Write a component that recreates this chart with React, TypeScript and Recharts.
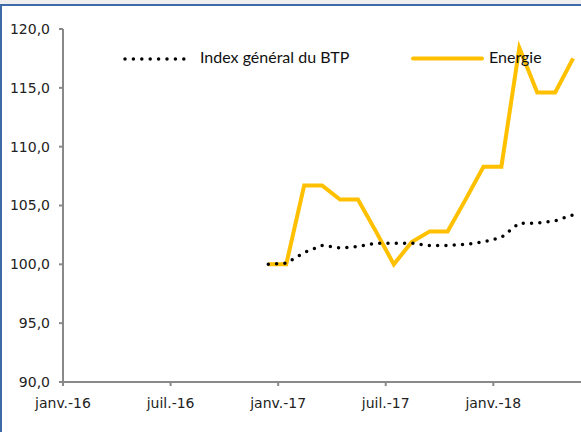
import { LineChart, Line, XAxis, YAxis } from "recharts";

// months counted from janv.-16 = 0
const tickMonths = [0, 6, 12, 18, 24];
const tickLabels = ["janv.-16", "juil.-16", "janv.-17", "juil.-17", "janv.-18"];
const yTicks = [90, 95, 100, 105, 110, 115, 120];

const periods = [
  "déc.-16", "janv.-17", "févr.-17", "mars-17", "avr.-17", "mai-17",
  "juin-17", "juil.-17", "août-17", "sept.-17", "oct.-17", "nov.-17",
  "déc.-17", "janv.-18", "févr.-18", "mars-18", "avr.-18", "mai-18",
];
const indexBTP = [
  100.0, 100.1, 101.0, 101.6, 101.4, 101.5, 101.8, 101.8, 101.8,
  101.6, 101.6, 101.7, 101.9, 102.3, 103.5, 103.5, 103.7, 104.2,
];
const energie = [
  100.0, 100.0, 106.7, 106.7, 105.5, 105.5, 102.8, 100.0, 101.9,
  102.8, 102.8, 105.5, 108.3, 108.3, 118.4, 114.6, 114.6, 117.5,
];

const firstMonth = 11;
const pointOffset = 0.45;

const data = periods.map((p, i) => ({
  periode: p,
  m: firstMonth + i + pointOffset,
  index: indexBTP[i],
  energie: energie[i],
}));

const AXIS = "#898989";
const YELLOW = "#FFC000";
const FONT = "'DejaVu Sans', sans-serif";
const LEGEND_FONT = "Lato, sans-serif";

const fmt = (v: number) => v.toFixed(1).replace(".", ",");

export default function App() {
  return (
    <div
      style={{
        position: "fixed",
        left: 0,
        top: 0,
        width: 581,
        height: 432,
        background: "#fff",
        overflow: "hidden",
      }}
    >
      <div style={{ position: "absolute", left: 0, top: 0, width: 581, height: 4, background: "#efefef" }} />
      <div style={{ position: "absolute", left: 0, top: 4, width: 581, height: 2, background: "#3E6AA8" }} />
      <div style={{ position: "absolute", left: 0, top: 4, width: 2, height: 428, background: "#3E6AA8" }} />

      <div style={{ position: "absolute", left: 0, top: 0 }}>
        <LineChart width={581} height={432} data={data} margin={{ top: 29, right: 0, bottom: 0, left: 0 }}>
          <XAxis
            dataKey="m"
            type="number"
            domain={[0, 28.89]}
            allowDataOverflow
            ticks={tickMonths}
            tickFormatter={(v: number) => tickLabels[tickMonths.indexOf(v)] ?? ""}
            height={50}
            axisLine={{ stroke: AXIS, strokeWidth: 2 }}
            tickLine={{ stroke: AXIS, strokeWidth: 2 }}
            tickSize={4}
            tickMargin={12}
            tick={{ fill: "#222", fontSize: 14, fontFamily: FONT }}
          />
          <YAxis
            type="number"
            domain={[90, 120]}
            ticks={yTicks}
            tickFormatter={fmt}
            width={63}
            axisLine={{ stroke: AXIS, strokeWidth: 2 }}
            tickLine={{ stroke: AXIS, strokeWidth: 2 }}
            tickSize={4}
            tickMargin={9}
            tick={{ fill: "#222", fontSize: 14, fontFamily: FONT }}
          />
          <Line
            type="linear"
            dataKey="energie"
            stroke={YELLOW}
            strokeWidth={4}
            dot={false}
            isAnimationActive={false}
          />
          <Line
            type="linear"
            dataKey="index"
            stroke="#000"
            strokeWidth={3.5}
            strokeDasharray="0 8.3"
            strokeLinecap="round"
            dot={false}
            isAnimationActive={false}
          />
        </LineChart>
      </div>

      {/* legend */}
      <svg style={{ position: "absolute", left: 0, top: 0 }} width={581} height={80}>
        <line x1={125} y1={59} x2={192} y2={59} stroke="#000" strokeWidth={3.5} strokeDasharray="0 8.4" strokeLinecap="round" />
        <line x1={413} y1={58.5} x2={482} y2={58.5} stroke={YELLOW} strokeWidth={4} strokeLinecap="round" />
      </svg>
      <span style={{ position: "absolute", left: 200, top: 49, fontFamily: LEGEND_FONT, fontSize: 16, lineHeight: "16px", color: "#111", whiteSpace: "nowrap" }}>
        Index général du BTP
      </span>
      <span style={{ position: "absolute", left: 489, top: 49, fontFamily: LEGEND_FONT, fontSize: 16, lineHeight: "16px", color: "#111", whiteSpace: "nowrap" }}>
        Energie
      </span>
    </div>
  );
}
